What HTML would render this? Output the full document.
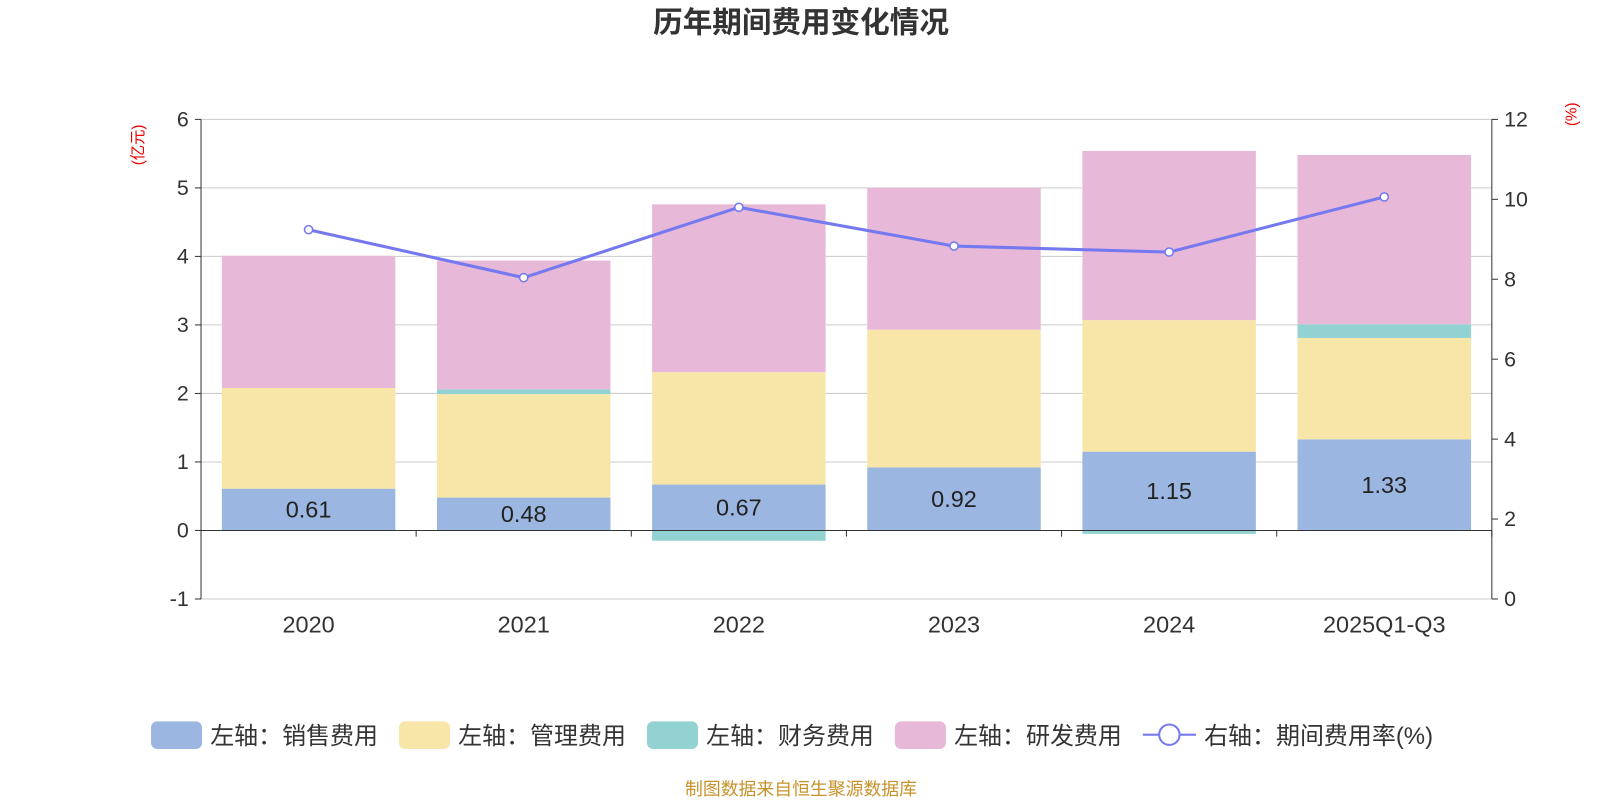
<!DOCTYPE html>
<html><head><meta charset="utf-8"><style>
body{margin:0;background:#fff;}
svg{display:block;font-family:"Liberation Sans","Noto Sans CJK SC",sans-serif;}
</style></head><body>
<svg id="c" width="1600" height="800" viewBox="0 0 1568 784"></svg>
<script>
const categories=["2020","2021","2022","2023","2024","2025Q1-Q3"];
const sales=[0.61,0.48,0.67,0.92,1.15,1.33];
const mgmt=[1.47,1.51,1.64,2.01,1.92,1.48];
const finance=[0.0,0.07,-0.15,0.0,-0.05,0.20];
const rnd=[1.93,1.88,2.45,2.07,2.47,2.47];
const rate=[9.24,8.04,9.80,8.83,8.68,10.06];
const leftTicks=[-1,0,1,2,3,4,5,6];
const rightTicks=[0,2,4,6,8,10,12];

const NS="http://www.w3.org/2000/svg";
const svg=document.getElementById('c');
function el(t,a,p){const e=document.createElementNS(NS,t);for(const k in a)e.setAttribute(k,a[k]);(p||svg).appendChild(e);return e;}
const X0=197,X1=1462,T=117,B=587;
const yL=v=>B-(v+1)/7*(B-T);
const yR=v=>B-v/12*(B-T);
const cw=(X1-X0)/categories.length;
const xc=i=>X0+cw*(i+0.5);
const bw=170;

const t=el('text',{x:785,y:32,'text-anchor':'middle','font-size':29,'font-weight':'bold',fill:'#333'});t.textContent='历年期间费用变化情况';


leftTicks.forEach(v=>{
  const g=el('line',{x1:X0,x2:X1,y1:yL(v),y2:yL(v),stroke:'#ccc','stroke-width':1});
  
  el('line',{x1:X0-6,x2:X0,y1:yL(v),y2:yL(v),stroke:'#333'});
  const l=el('text',{x:X0-12,y:yL(v)+7,'text-anchor':'end','font-size':21,fill:'#333'});l.textContent=v;
  
});
rightTicks.forEach(v=>{
  el('line',{x1:X1,x2:X1+6,y1:yR(v),y2:yR(v),stroke:'#333'});
  const l=el('text',{x:X1+12,y:yR(v)+7,'font-size':21,fill:'#333'});l.textContent=v;
  
});
el('line',{x1:X0,x2:X0,y1:T,y2:B,stroke:'#333'});
el('line',{x1:X1,x2:X1,y1:T,y2:B,stroke:'#333'});
const u1=el('text',{x:0,y:0,'font-size':15,fill:'#e00',transform:`translate(140,142) rotate(-90)`,'text-anchor':'middle'});u1.textContent='(亿元)';

const u2=el('text',{x:0,y:0,'font-size':15,fill:'#e00',transform:`translate(1545,112) rotate(-90)`,'text-anchor':'middle'});u2.textContent='(%)';


const colors={sales:'#9bb6e0',mgmt:'#f7e6a7',fin:'#93d2d2',rnd:'#e7b8d8'};
categories.forEach((c,i)=>{
  let pos=0,neg=0;
  const parts=[['sales',sales[i]],['mgmt',mgmt[i]],['fin',finance[i]],['rnd',rnd[i]]];
  parts.forEach(([k,v])=>{
    let a,b;
    if(v>=0){a=pos;b=pos+v;pos=b;}else{a=neg;b=neg+v;neg=b;}
    const y1=yL(Math.max(a,b)),y2=yL(Math.min(a,b));
    const r=el('rect',{x:xc(i)-bw/2,y:y1,width:bw,height:Math.max(0,y2-y1),fill:colors[k]});
    
  });
  const l=el('text',{x:xc(i),y:(yL(0)+yL(sales[i]))/2+8,'text-anchor':'middle','font-size':23,fill:'#222'});l.textContent=sales[i].toFixed(2);
  
  const xl=el('text',{x:xc(i),y:620,'text-anchor':'middle','font-size':23,fill:'#333'});xl.textContent=c;
  
});
el('line',{x1:X0,x2:X1,y1:yL(0),y2:yL(0),stroke:'#333'});
for(let i=0;i<=categories.length;i++)el('line',{x1:X0+cw*i,x2:X0+cw*i,y1:yL(0),y2:yL(0)+6,stroke:'#333'});

const pts=rate.map((v,i)=>xc(i)+','+yR(v)).join(' ');
const pl=el('polyline',{points:pts,fill:'none',stroke:'#7579f0','stroke-width':3});

rate.forEach((v,i)=>{
  const d=el('circle',{cx:xc(i),cy:yR(v),r:4,fill:'#fff',stroke:'#7579f0','stroke-width':1.5});
  
});

const leg=[['sales','左轴：销售费用',148],['mgmt','左轴：管理费用',391],['fin','左轴：财务费用',634],['rnd','左轴：研发费用',877]];
leg.forEach(([k,txt,x])=>{
  const g=el('g',{});
  
  el('rect',{x:x,y:707,width:50,height:27,rx:6,fill:colors[k]},g);
  const tt=el('text',{x:x+58,y:729,'font-size':23.5,fill:'#333'},g);tt.textContent=txt;
});
const g=el('g',{});

el('line',{x1:1120,x2:1172,y1:720,y2:720,stroke:'#7579f0','stroke-width':2},g);
el('circle',{cx:1146,cy:720,r:10,fill:'#fff',stroke:'#7579f0','stroke-width':2},g);
const tr=el('text',{x:1180,y:729,'font-size':23.5,fill:'#333'},g);tr.textContent='右轴：期间费用率(%)';

const f=el('text',{x:785,y:779,'text-anchor':'middle','font-size':17.5,fill:'#c8922a'});f.textContent='制图数据来自恒生聚源数据库';

</script>
</body></html>
